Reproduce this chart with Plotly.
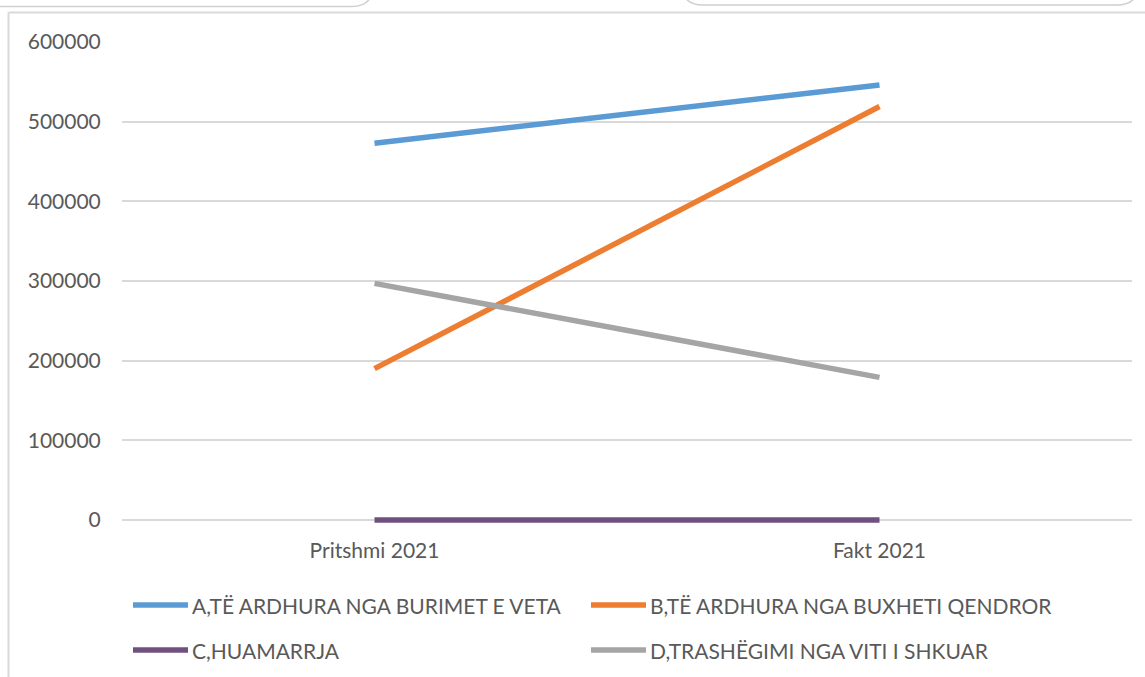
import plotly.graph_objects as go

# Data
categories = ["Pritshmi 2021", "Fakt 2021"]
series_names = [
    "A,TË ARDHURA NGA BURIMET E VETA",
    "B,TË ARDHURA NGA BUXHETI QENDROR",
    "C,HUAMARRJA",
    "D,TRASHËGIMI NGA VITI I SHKUAR",
]
series_values = [
    [473000, 546000],
    [190000, 519000],
    [0, 0],
    [297000, 179000],
]
colors = ["#5B9BD5", "#ED7D31", "#70507E", "#A5A5A5"]
y_ticks = [0, 100000, 200000, 300000, 400000, 500000, 600000]

# page body margin is removed in post_script, so the figure fills the window
W, H = 1145, 677
# plot area in screenshot pixels: x 122..1132, y 42..528 (0 sits at 520)
PL, PR, PT, PB = 122, 1132, 42, 528
L, R, T, B = PL, W - PR, PT, H - PB


def px(x):
    return (x - PL) / (PR - PL)


def py(y):
    return (PB - y) / (PB - PT)


font = dict(family="Lato, 'Noto Sans', sans-serif", size=21, color="#595959")

fig = go.Figure()
for name, vals, col in zip(series_names, series_values, colors):
    fig.add_trace(go.Scatter(
        x=categories, y=vals, name=name, mode="lines",
        line=dict(color=col, width=5.5), showlegend=False,
    ))

shapes = []
annotations = []
# legend drawn by hand: two columns, two rows
leg_pos = [(133, 605), (591, 605), (133, 650), (591, 650)]
for (lx, ly), name, col in zip(leg_pos, series_names, colors):
    shapes.append(dict(type="line", xref="paper", yref="paper",
                       x0=px(lx), x1=px(lx + 55), y0=py(ly), y1=py(ly),
                       line=dict(color=col, width=5.5)))
    annotations.append(dict(xref="paper", yref="paper", x=px(lx + 57), y=py(ly),
                            text=name, showarrow=False, xanchor="left",
                            yanchor="middle", font=font))

# frame and partially visible boxes at the top of the screenshot
frame = dict(color="#D9D9D9", width=2)
shapes.append(dict(type="line", xref="paper", yref="paper",
                   x0=px(8.5), x1=px(8.5), y0=py(12.5), y1=py(700), line=frame))
shapes.append(dict(type="line", xref="paper", yref="paper",
                   x0=px(8.5), x1=px(1160), y0=py(12.5), y1=py(12.5), line=frame))
box = dict(color="#D0D0D0", width=1.5)
shapes.append(dict(type="path", xref="paper", yref="paper", line=box,
                   path=(f"M {px(-10)},{py(6.5)} L {px(352)},{py(6.5)} "
                         f"Q {px(372)},{py(6.5)} {px(374)},{py(-14)}")))
shapes.append(dict(type="path", xref="paper", yref="paper", line=box,
                   path=(f"M {px(681)},{py(-14)} Q {px(683)},{py(5)} {px(703)},{py(5)} "
                         f"L {px(1117)},{py(5)} Q {px(1137)},{py(5)} {px(1139)},{py(-14)}")))

fig.update_layout(
    width=W, height=H,
    margin=dict(l=L, r=R, t=T, b=B),
    paper_bgcolor="white", plot_bgcolor="white",
    font=font,
    shapes=shapes,
    annotations=annotations,
    xaxis=dict(
        type="category", range=[-0.5, 1.5], showgrid=False, zeroline=False,
        showline=False, ticks="outside", ticklen=4, tickcolor="rgba(0,0,0,0)",
        tickfont=font,
    ),
    yaxis=dict(
        range=[-10000, 600000], tickvals=y_ticks, ticktext=[str(v) for v in y_ticks],
        showgrid=True, gridcolor="#D9D9D9", gridwidth=2, zeroline=False,
        showline=False, ticks="outside", ticklen=16, tickcolor="rgba(0,0,0,0)",
        tickfont=font,
    ),
)

fig.write_html("out.html", config={"displayModeBar": False},
               post_script="document.body.style.margin='0';")
